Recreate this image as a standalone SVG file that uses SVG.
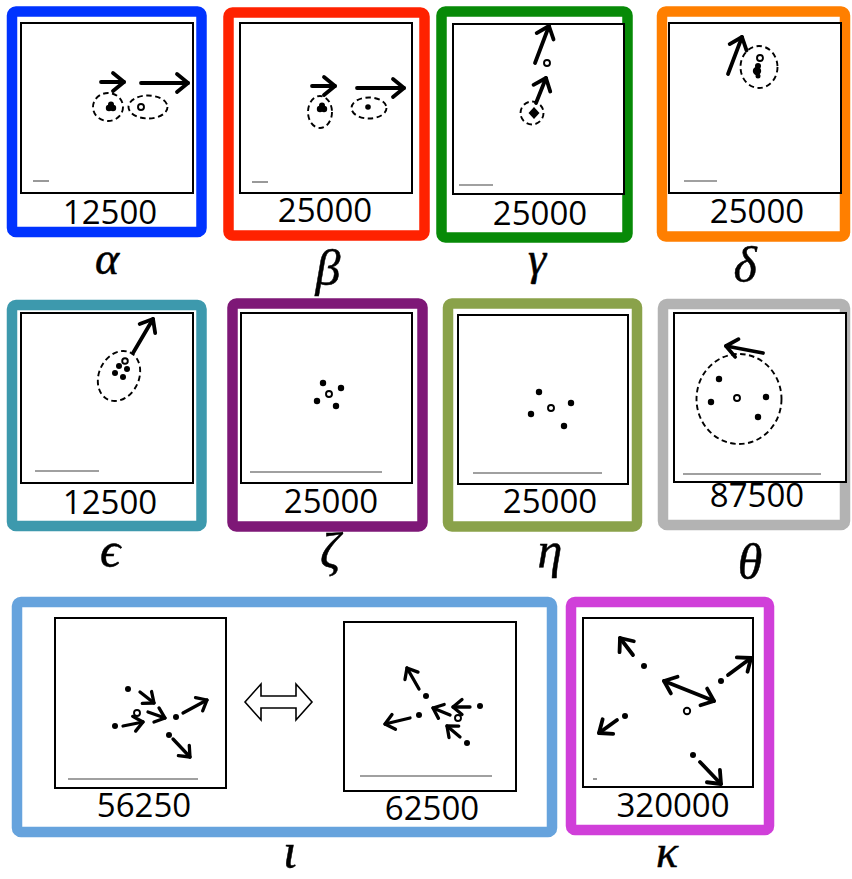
<svg xmlns="http://www.w3.org/2000/svg" width="852" height="879" viewBox="0 0 852 879">
<style>
.frame{fill:#fff;stroke-width:10.5}
.sq{fill:#fff;stroke:#000;stroke-width:2}
.num{font-family:"Open Sans","Liberation Sans",sans-serif;font-size:33px;text-anchor:middle;fill:#000}
.gk{font-family:"Liberation Serif","DejaVu Serif",serif;font-style:italic;font-size:50px;text-anchor:middle;fill:#000;stroke:#000;stroke-width:0.5}
.bar{stroke:#808080;stroke-width:1.6}
.ar{stroke:#000;stroke-width:3.8;stroke-linecap:round;fill:none;marker-end:url(#ah)}
.ars{stroke:#000;stroke-width:3.3;stroke-linecap:round;fill:none;marker-end:url(#ahs)}
.dash{fill:none;stroke:#000;stroke-width:1.9;stroke-dasharray:5.5 3.5}
.dot{fill:#000}
.oc{fill:#fff;stroke:#000;stroke-width:1.9}
</style>
<defs>
<marker id="ah" markerUnits="userSpaceOnUse" markerWidth="30" markerHeight="30" viewBox="-15 -15 30 30" refX="0" refY="0" orient="auto" overflow="visible">
<path d="M-11,-9 L0,0 L-11,9" fill="none" stroke="#000" stroke-width="3.8" stroke-linecap="round" stroke-linejoin="round"/>
</marker>
<marker id="ahs" markerUnits="userSpaceOnUse" markerWidth="30" markerHeight="30" viewBox="-15 -15 30 30" refX="0" refY="0" orient="auto" overflow="visible">
<path d="M-9,-7.5 L0,0 L-9,7.5" fill="none" stroke="#000" stroke-width="3.3" stroke-linecap="round" stroke-linejoin="round"/>
</marker>
<marker id="ahb" markerUnits="userSpaceOnUse" markerWidth="30" markerHeight="30" viewBox="-15 -15 30 30" refX="0" refY="0" orient="auto-start-reverse" overflow="visible">
<path d="M-11,-9 L0,0 L-11,9" fill="none" stroke="#000" stroke-width="3.8" stroke-linecap="round" stroke-linejoin="round"/>
</marker>
</defs>
<rect width="852" height="879" fill="#fff"/>

<g id="alpha">
<rect class="frame" x="12" y="11.5" width="189.5" height="220.5" rx="4" stroke="#0033ff"/>
<rect class="sq" x="21" y="23" width="172" height="170"/>
<line class="bar" x1="33" y1="181" x2="49" y2="181"/>
<ellipse class="dash" cx="108" cy="107" rx="15" ry="14"/>
<ellipse class="dash" cx="148" cy="107" rx="19.5" ry="11.5"/>
<circle class="dot" cx="109" cy="108" r="3.2"/>
<circle class="dot" cx="113" cy="108" r="3.2"/>
<circle class="dot" cx="111" cy="104.5" r="3"/>
<circle class="oc" cx="141" cy="107" r="3"/>
<line class="ar" x1="101" y1="82" x2="124" y2="82"/>
<line class="ar" x1="141" y1="83" x2="188" y2="83"/>
<text class="num" x="110" y="224">12500</text>
<text class="gk" x="107" y="274" style="font-size:46px">α</text>
</g>

<g id="beta">
<rect class="frame" x="228.5" y="12.5" width="196" height="223" rx="4" stroke="#ff2200"/>
<rect class="sq" x="240" y="23" width="172" height="170"/>
<line class="bar" x1="252" y1="182" x2="268" y2="182"/>
<ellipse class="dash" cx="320" cy="112" rx="12" ry="16"/>
<ellipse class="dash" cx="369" cy="108" rx="17.5" ry="10.5"/>
<circle class="dot" cx="320" cy="109" r="3.2"/>
<circle class="dot" cx="324" cy="109" r="3.2"/>
<circle class="dot" cx="322" cy="105.5" r="3"/>
<circle class="dot" cx="368" cy="107" r="2.8"/>
<line class="ar" x1="312" y1="86" x2="335" y2="86"/>
<line class="ar" x1="357" y1="88" x2="404" y2="88"/>
<text class="num" x="325" y="222">25000</text>
<text class="gk" x="328" y="285">β</text>
</g>

<g id="gamma">
<rect class="frame" x="441.5" y="11.5" width="186" height="226" rx="4" stroke="#078a07"/>
<rect class="sq" x="453" y="24" width="171" height="170"/>
<line class="bar" x1="459" y1="185" x2="493" y2="185"/>
<circle class="dash" cx="532" cy="113" r="11.5"/>
<path d="M534,107 L539.5,113 L534,119 L528.5,113 Z" fill="#000"/>
<circle class="oc" cx="547" cy="63" r="3"/>
<line class="ar" x1="535" y1="63" x2="549" y2="26"/>
<line class="ar" x1="536" y1="103" x2="546" y2="78"/>
<text class="num" x="540" y="225">25000</text>
<text class="gk" x="537" y="274" style="font-size:46px">γ</text>
</g>

<g id="delta">
<rect class="frame" x="662" y="11.5" width="183" height="225" rx="4" stroke="#ff7f00"/>
<rect class="sq" x="669" y="23" width="172" height="170"/>
<line class="bar" x1="684" y1="181" x2="717" y2="181"/>
<ellipse class="dash" cx="759" cy="67" rx="18.5" ry="21"/>
<circle class="oc" cx="760" cy="58" r="3"/>
<circle class="dot" cx="758" cy="66" r="3"/>
<circle class="dot" cx="757" cy="71" r="4.2"/>
<circle class="dot" cx="758" cy="76" r="2.5"/>
<line class="ar" x1="728" y1="74" x2="742" y2="37"/>
<text class="num" x="757" y="223">25000</text>
<text class="gk" x="745" y="282">δ</text>
</g>

<g id="epsilon">
<rect class="frame" x="12" y="305" width="189.5" height="221" rx="4" stroke="#3d99ad"/>
<rect class="sq" x="21" y="313" width="172" height="170"/>
<line class="bar" x1="35" y1="471" x2="99" y2="471"/>
<ellipse class="dash" cx="119" cy="376" rx="20" ry="26" transform="rotate(25 119 376)"/>
<circle class="dot" cx="119" cy="366" r="3"/>
<circle class="dot" cx="115" cy="373" r="3"/>
<circle class="dot" cx="123" cy="377" r="3"/>
<circle class="dot" cx="127" cy="369" r="3"/>
<circle class="oc" cx="125" cy="361" r="2.8"/>
<line class="ar" x1="133" y1="353" x2="153" y2="319"/>
<text class="num" x="110" y="514">12500</text>
<text class="gk" x="110" y="567">ϵ</text>
</g>

<g id="zeta">
<rect class="frame" x="232.5" y="303.5" width="190" height="223" rx="4" stroke="#7e1877"/>
<rect class="sq" x="241" y="313" width="171" height="170"/>
<line class="bar" x1="250" y1="472" x2="382" y2="472"/>
<circle class="dot" cx="323" cy="383" r="3.2"/>
<circle class="dot" cx="341" cy="388" r="3.2"/>
<circle class="dot" cx="317" cy="401" r="3.2"/>
<circle class="dot" cx="336" cy="406" r="3.2"/>
<circle class="oc" cx="329" cy="394" r="3"/>
<text class="num" x="331" y="513">25000</text>
<text class="gk" x="330" y="568">ζ</text>
</g>

<g id="eta">
<rect class="frame" x="448" y="303.5" width="189" height="223" rx="4" stroke="#8aa24a"/>
<rect class="sq" x="458" y="315" width="170" height="169"/>
<line class="bar" x1="473" y1="473" x2="602" y2="473"/>
<circle class="dot" cx="539" cy="392" r="3.2"/>
<circle class="dot" cx="571" cy="403" r="3.2"/>
<circle class="dot" cx="531" cy="414" r="3.2"/>
<circle class="dot" cx="564" cy="426" r="3.2"/>
<circle class="oc" cx="551" cy="408" r="3"/>
<text class="num" x="550" y="513">25000</text>
<text class="gk" x="550" y="567">η</text>
</g>

<g id="theta">
<rect class="frame" x="663" y="304" width="182" height="221" rx="4" stroke="#b3b3b3"/>
<rect class="sq" x="674" y="313" width="172" height="169"/>
<line class="bar" x1="683" y1="474" x2="821" y2="474"/>
<ellipse class="dash" cx="739" cy="399" rx="42.5" ry="45"/>
<circle class="dot" cx="719" cy="379" r="3.2"/>
<circle class="dot" cx="711" cy="402" r="3.2"/>
<circle class="dot" cx="766" cy="397" r="3.2"/>
<circle class="dot" cx="758" cy="417" r="3.2"/>
<circle class="oc" cx="737" cy="398" r="3"/>
<line class="ar" x1="763" y1="353" x2="726" y2="346"/>
<text class="num" x="757" y="507">87500</text>
<text class="gk" x="750" y="579">θ</text>
</g>

<g id="iota">
<rect class="frame" x="17" y="602" width="535" height="230" rx="4" stroke="#66a3dd"/>
<g id="iota-left">
<rect class="sq" x="55" y="618" width="171" height="170"/>
<line class="bar" x1="68" y1="779" x2="198" y2="779"/>
<circle class="dot" cx="128" cy="689" r="3"/>
<circle class="oc" cx="137" cy="713" r="3"/>
<circle class="dot" cx="115" cy="726" r="3"/>
<circle class="dot" cx="176" cy="717" r="3"/>
<circle class="dot" cx="169" cy="735" r="3"/>
<line class="ars" x1="140" y1="692" x2="154" y2="703"/>
<line class="ars" x1="148" y1="712" x2="165" y2="718"/>
<line class="ars" x1="123" y1="726" x2="143" y2="722"/>
<line class="ars" x1="183" y1="713" x2="207" y2="700"/>
<line class="ars" x1="173" y1="739" x2="190" y2="757"/>
<text class="num" x="144" y="817">56250</text>
</g>
<g id="iota-right">
<rect class="sq" x="344" y="622" width="172" height="169"/>
<line class="bar" x1="360" y1="776" x2="492" y2="776"/>
<circle class="dot" cx="426" cy="696" r="3"/>
<circle class="dot" cx="419" cy="715" r="3"/>
<circle class="dot" cx="480" cy="706" r="3"/>
<circle class="oc" cx="458" cy="718" r="3"/>
<circle class="dot" cx="467" cy="743" r="3"/>
<line class="ars" x1="419" y1="689" x2="407" y2="668"/>
<line class="ars" x1="410" y1="718" x2="385" y2="724"/>
<line class="ars" x1="470" y1="707" x2="453" y2="707"/>
<line class="ars" x1="450" y1="715" x2="433" y2="708"/>
<line class="ars" x1="460" y1="737" x2="447" y2="726"/>
<text class="num" x="432" y="820">62500</text>
</g>
<text class="gk" x="290" y="868">ι</text>
</g>

<g id="kappa">
<rect class="frame" x="571" y="602" width="198" height="228" rx="4" stroke="#d03fd9"/>
<rect class="sq" x="583" y="618" width="170" height="169"/>
<line class="bar" x1="593" y1="779" x2="597" y2="779"/>
<circle class="dot" cx="644" cy="666" r="3"/>
<circle class="dot" cx="721" cy="681" r="3"/>
<circle class="dot" cx="625" cy="716" r="3"/>
<circle class="dot" cx="693" cy="755" r="3"/>
<circle class="oc" cx="687" cy="711" r="3.2"/>
<line class="ar" x1="633" y1="655" x2="620" y2="638"/>
<line class="ar" x1="728" y1="675" x2="751" y2="658"/>
<line class="ar" x1="617" y1="720" x2="599" y2="733"/>
<line class="ar" x1="700" y1="762" x2="721" y2="784"/>
<line x1="664" y1="681" x2="714" y2="701" stroke="#000" stroke-width="3.8" stroke-linecap="round" marker-start="url(#ahb)" marker-end="url(#ahb)"/>
<text class="num" x="673" y="817">320000</text>
<text class="gk" x="667" y="867" style="font-size:46px">κ</text>
</g>

<g id="connectors">
<path d="M245,702 L261,684 L261,696 L296,696 L296,684 L312,702 L296,720 L296,708 L261,708 L261,720 Z" fill="#fff" stroke="#000" stroke-width="1.6" stroke-linejoin="miter"/>
</g>
</svg>
